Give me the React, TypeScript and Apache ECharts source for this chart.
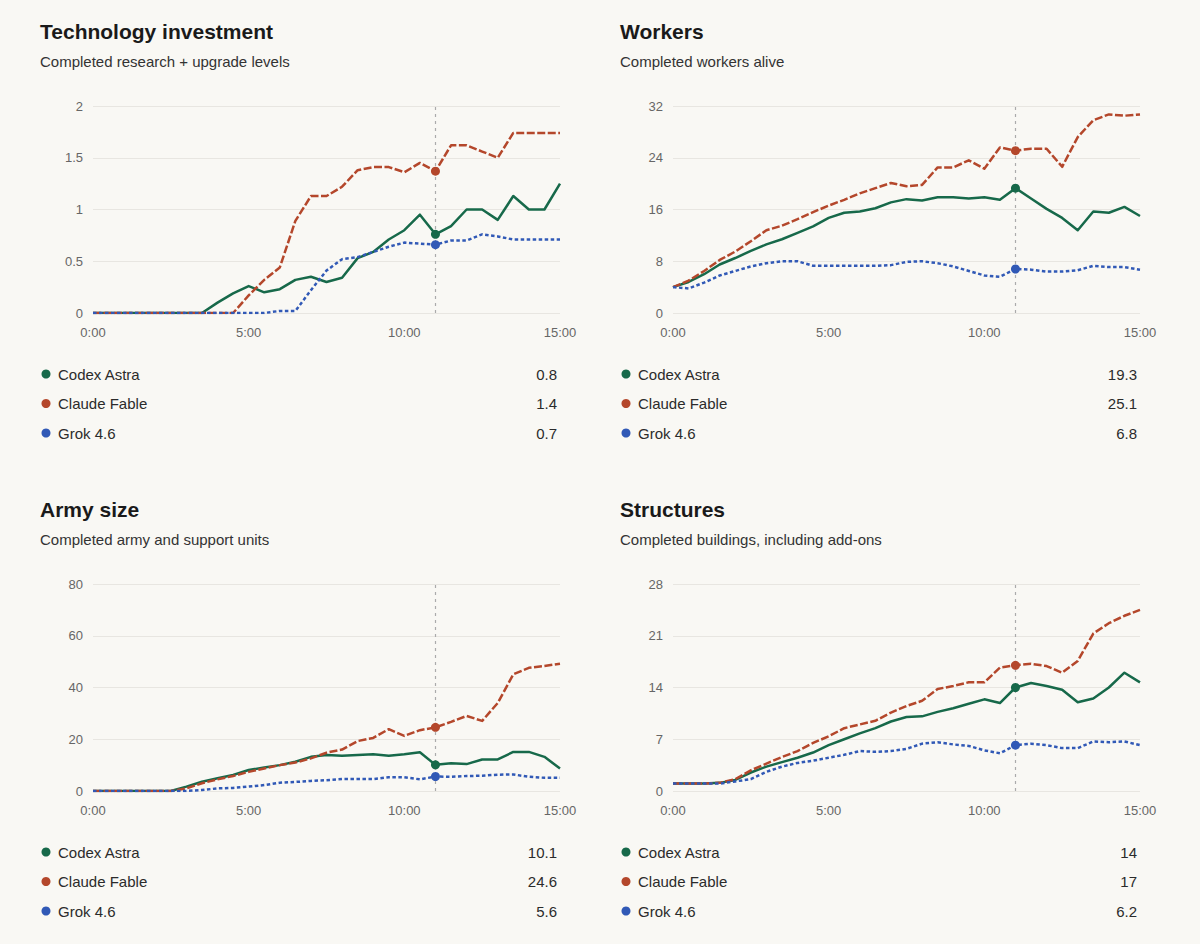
import React, { useEffect, useRef } from "react";
import * as echarts from "echarts";

// ---- data ----
const minutes = [0, 0.5, 1, 1.5, 2, 2.5, 3, 3.5, 4, 4.5, 5, 5.5, 6, 6.5, 7, 7.5, 8, 8.5, 9, 9.5, 10, 10.5, 11, 11.5, 12, 12.5, 13, 13.5, 14, 14.5, 15];
const xTicks = [0, 5, 10, 15];
const markerMinute = 11;

const seriesNames = ["Codex Astra", "Claude Fable", "Grok 4.6"];
const seriesColors = ["#17694a", "#b4472b", "#3159b6"];

const techCodex = [0, 0, 0, 0, 0, 0, 0, 0, 0.1, 0.19, 0.26, 0.2, 0.23, 0.32, 0.35, 0.3, 0.34, 0.53, 0.59, 0.71, 0.8, 0.95, 0.76, 0.84, 1, 1, 0.9, 1.13, 1, 1, 1.25];
const techClaude = [0, 0, 0, 0, 0, 0, 0, 0, 0, 0, 0.17, 0.32, 0.44, 0.89, 1.13, 1.13, 1.22, 1.38, 1.41, 1.41, 1.36, 1.45, 1.37, 1.62, 1.62, 1.56, 1.5, 1.74, 1.74, 1.74, 1.74];
const techGrok = [0, 0, 0, 0, 0, 0, 0, 0, 0, 0, 0, 0, 0.02, 0.02, 0.22, 0.41, 0.52, 0.54, 0.59, 0.64, 0.68, 0.67, 0.66, 0.7, 0.7, 0.76, 0.74, 0.71, 0.71, 0.71, 0.71];

const workersCodex = [4, 4.8, 6, 7.5, 8.5, 9.6, 10.6, 11.4, 12.4, 13.4, 14.7, 15.5, 15.7, 16.2, 17.1, 17.6, 17.4, 17.9, 17.9, 17.7, 17.9, 17.5, 19.3, 17.7, 16.1, 14.7, 12.8, 15.7, 15.5, 16.4, 15];
const workersClaude = [4, 5, 6.5, 8.2, 9.5, 11.1, 12.8, 13.5, 14.5, 15.6, 16.6, 17.5, 18.5, 19.3, 20.1, 19.6, 19.8, 22.5, 22.5, 23.6, 22.3, 25.6, 25.1, 25.4, 25.4, 22.6, 27.2, 29.8, 30.7, 30.5, 30.7];
const workersGrok = [4, 3.8, 4.7, 5.8, 6.5, 7.2, 7.7, 8, 8, 7.3, 7.3, 7.3, 7.3, 7.3, 7.4, 7.9, 8, 7.7, 7.2, 6.5, 5.8, 5.6, 6.8, 6.7, 6.4, 6.4, 6.6, 7.3, 7.1, 7.1, 6.7];

const armyCodex = [0, 0, 0, 0, 0, 0, 1.7, 3.6, 4.9, 6.2, 8.1, 9.1, 10, 11.3, 13.2, 13.9, 13.6, 13.9, 14.2, 13.6, 14.2, 15, 10.1, 10.7, 10.4, 12.2, 12.2, 15.1, 15.1, 13.2, 8.7];
const armyClaude = [0, 0, 0, 0, 0, 0, 1, 3, 4.5, 5.8, 7.4, 8.7, 10, 11, 12.6, 14.8, 16, 19.3, 20.5, 23.9, 21.3, 23.5, 24.6, 26.7, 29, 27.1, 34, 45.1, 47.6, 48.3, 49.2];
const armyGrok = [0, 0, 0, 0, 0, 0, 0, 0.4, 1, 1.2, 1.7, 2.3, 3.2, 3.5, 3.9, 4.2, 4.6, 4.6, 4.6, 5.3, 5.3, 4.5, 5.6, 5.5, 5.8, 5.9, 6.3, 6.4, 5.5, 5.1, 5.1];

const structCodex = [1, 1, 1, 1.1, 1.5, 2.5, 3.3, 3.9, 4.5, 5.2, 6.2, 7, 7.8, 8.5, 9.4, 10, 10.1, 10.7, 11.2, 11.8, 12.4, 11.9, 14, 14.6, 14.2, 13.7, 12, 12.5, 14, 16, 14.7];
const structClaude = [1, 1, 1, 1.1, 1.6, 2.8, 3.7, 4.6, 5.4, 6.5, 7.4, 8.5, 9, 9.5, 10.6, 11.5, 12.2, 13.8, 14.2, 14.7, 14.7, 16.7, 17, 17.2, 16.9, 16, 17.6, 21.3, 22.7, 23.7, 24.5];
const structGrok = [1, 1, 1, 1, 1.3, 1.6, 2.6, 3.3, 3.8, 4.1, 4.5, 4.9, 5.4, 5.3, 5.4, 5.7, 6.4, 6.6, 6.3, 6.1, 5.5, 5.1, 6.2, 6.4, 6.2, 5.8, 5.8, 6.7, 6.6, 6.7, 6.2];

const panelTitles = ["Technology investment", "Workers", "Army size", "Structures"];
const panelSubtitles = [
  "Completed research + upgrade levels",
  "Completed workers alive",
  "Completed army and support units",
  "Completed buildings, including add-ons",
];
const panelYMax = [2, 32, 80, 28];
const panelYInterval = [0.5, 8, 20, 7];
const panelValues = [
  [techCodex, techClaude, techGrok],
  [workersCodex, workersClaude, workersGrok],
  [armyCodex, armyClaude, armyGrok],
  [structCodex, structClaude, structGrok],
];

// ---- styling / layout ----
const BG = "#f9f8f4";
const FONT = "'Liberation Sans', Arial, Helvetica, sans-serif";
const colX = [0, 580];
const rowY = [0, 478];
const GRID_LEFT = 93;
const GRID_TOP = 106;
const GRID_W = 467;
const GRID_H = 207;
const lineTypes: any[] = ["solid", [8, 2.5], [3.5, 2.5]];

function fmt(v: number) {
  return String(Math.round(v * 10) / 10);
}

function buildOption() {
  const markerIdx = minutes.indexOf(markerMinute);
  const grid: any[] = [];
  const xAxis: any[] = [];
  const yAxis: any[] = [];
  const series: any[] = [];
  const graphic: any[] = [];

  panelTitles.forEach((title, p) => {
    const ox = colX[p % 2];
    const oy = rowY[Math.floor(p / 2)];
    const left = GRID_LEFT + ox;
    const top = GRID_TOP + oy;
    grid.push({ left, top, width: GRID_W, height: GRID_H, containLabel: false });
    xAxis.push({
      type: "value",
      gridIndex: p,
      min: xTicks[0],
      max: xTicks[xTicks.length - 1],
      interval: xTicks[1] - xTicks[0],
      axisLine: { show: false },
      axisTick: { show: false },
      splitLine: { show: false },
      axisLabel: {
        formatter: (v: number) => `${v}:00`,
        color: "#666666",
        fontSize: 13,
        fontFamily: FONT,
        margin: 13,
      },
    });
    yAxis.push({
      type: "value",
      gridIndex: p,
      min: 0,
      max: panelYMax[p],
      interval: panelYInterval[p],
      axisLine: { show: false },
      axisTick: { show: false },
      splitLine: { lineStyle: { color: "#e8e6e1", width: 1 } },
      axisLabel: { color: "#666666", fontSize: 13, fontFamily: FONT, margin: 10 },
    });

    panelValues[p].forEach((vals, s) => {
      const ser: any = {
        type: "line",
        name: seriesNames[s],
        xAxisIndex: p,
        yAxisIndex: p,
        data: minutes.map((m, i) => [m, vals[i]]),
        showSymbol: true,
        symbol: "circle",
        symbolSize: (_v: any, params: any) => (params.dataIndex === markerIdx ? 9 : 0),
        itemStyle: { color: seriesColors[s], borderWidth: 0 },
        lineStyle: { color: seriesColors[s], width: 2.5, type: lineTypes[s], cap: "butt", join: "round" },
        emphasis: { disabled: true },
        silent: true,
        z: 3 + s,
      };
      if (s === 0) {
        ser.markLine = {
          silent: true,
          symbol: ["none", "none"],
          label: { show: false },
          lineStyle: { color: "#ababab", type: [3, 4], width: 1.2 },
          data: [{ xAxis: markerMinute }],
          z: 1,
        };
      }
      series.push(ser);

      // legend rows
      const rowCenter = top + 268 + s * 29.5;
      graphic.push({
        type: "circle",
        shape: { cx: 46 + ox, cy: rowCenter, r: 4.5 },
        style: { fill: seriesColors[s] },
      });
      graphic.push({
        type: "text",
        x: 58 + ox,
        y: rowCenter,
        style: {
          text: seriesNames[s],
          fill: "#2b2b2b",
          fontSize: 15,
          fontFamily: FONT,
          align: "left",
          verticalAlign: "middle",
          textAlign: "left",
          textVerticalAlign: "middle",
        },
      });
      graphic.push({
        type: "text",
        x: 557 + ox,
        y: rowCenter,
        style: {
          text: fmt(vals[markerIdx]),
          fill: "#2b2b2b",
          fontSize: 15,
          fontFamily: FONT,
          align: "right",
          verticalAlign: "middle",
          textAlign: "right",
          textVerticalAlign: "middle",
        },
      });
    });

    graphic.push({
      type: "text",
      x: 40 + ox,
      y: top - 75,
      style: {
        text: title,
        fill: "#1a1a1a",
        fontSize: 21,
        fontWeight: "bold",
        fontFamily: FONT,
        align: "left",
        verticalAlign: "middle",
        textAlign: "left",
        textVerticalAlign: "middle",
      },
    });
    graphic.push({
      type: "text",
      x: 40 + ox,
      y: top - 45,
      style: {
        text: panelSubtitles[p],
        fill: "#333333",
        fontSize: 15,
        fontFamily: FONT,
        align: "left",
        verticalAlign: "middle",
        textAlign: "left",
        textVerticalAlign: "middle",
      },
    });
  });

  return {
    animation: false,
    backgroundColor: BG,
    textStyle: { fontFamily: FONT },
    grid,
    xAxis,
    yAxis,
    series,
    graphic,
  };
}

export default function App() {
  const ref = useRef<HTMLDivElement>(null);
  useEffect(() => {
    if (!ref.current) return;
    const chart = echarts.init(ref.current, null, { renderer: "svg" });
    chart.setOption(buildOption() as any);
    return () => chart.dispose();
  }, []);
  return (
    <div
      ref={ref}
      style={{ position: "absolute", left: 0, top: 0, width: 1200, height: 944, background: BG }}
    />
  );
}
